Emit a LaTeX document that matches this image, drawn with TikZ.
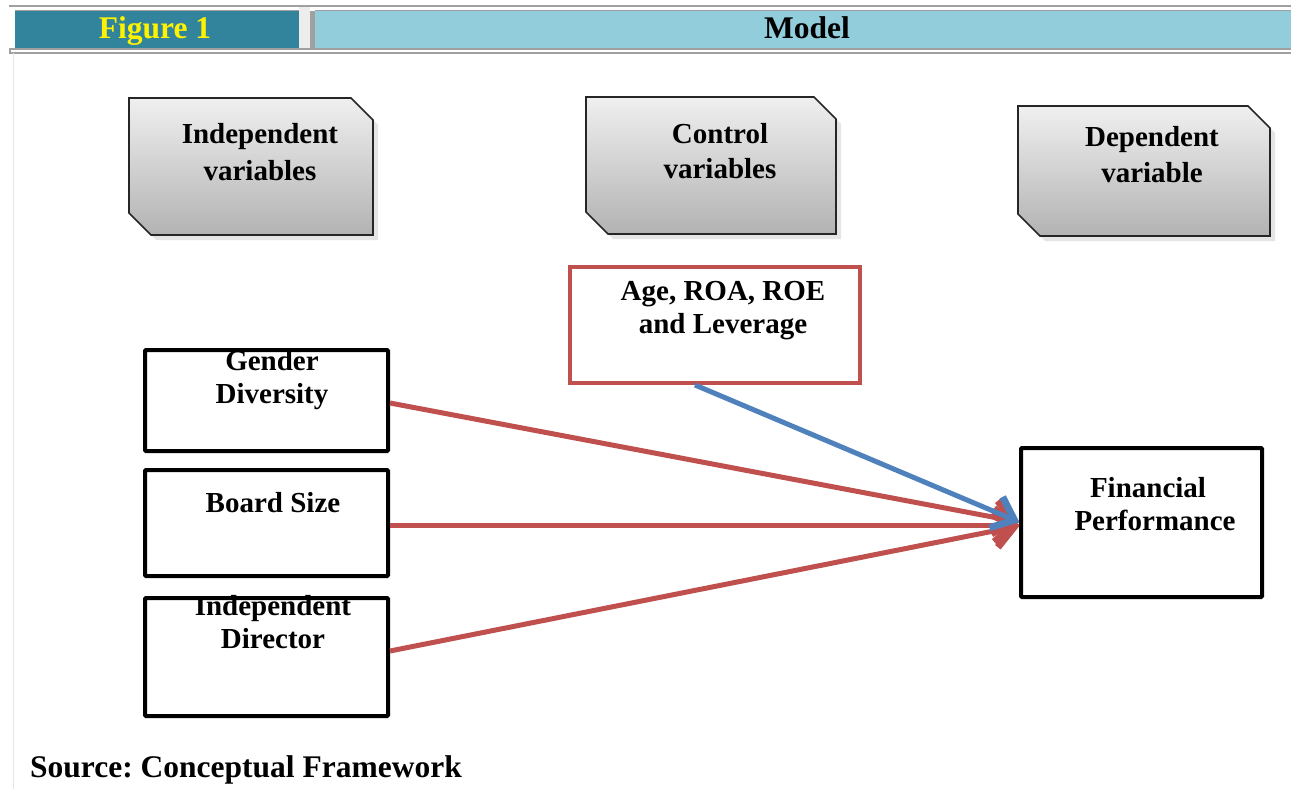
\documentclass[tikz,border=0pt]{standalone}
\usepackage{fontspec}
\setmainfont{Liberation Serif}
\usetikzlibrary{calc}
\definecolor{teal1}{HTML}{31849B}
\definecolor{lblue}{HTML}{92CDDC}
\definecolor{hgray}{HTML}{A0A0A0}
\definecolor{redl}{HTML}{C0504D}
\definecolor{bluel}{HTML}{4F81BD}
\frenchspacing
\tikzset{
  lbl/.style={font=\bfseries\fontsize{29}{33}\selectfont, align=center, inner sep=0pt},
  hdr/.style={font=\bfseries\fontsize{31.5}{34}\selectfont, inner sep=0pt, anchor=base},
  blkbox/.style={draw=black, line width=4pt, rounded corners=1pt, inner sep=0pt, anchor=north west},
  redbox/.style={draw=redl, line width=4pt, inner sep=0pt, anchor=north west},
  snip/.style={draw=black!85, line width=1.6pt, top color=black!6, bottom color=black!30},
  snipshadow/.style={fill=black!10, draw=none},
  arr/.style={line width=5pt},
  arrhead/.style={line width=7pt, line join=miter},
}
\newcommand{\snipbox}[5]{% x1 y1 x2 y2 c
  \path[snipshadow] (#1+5,#2+5) -- (#3-#5+5,#2+5) -- (#3+5,#2+#5+5) -- (#3+5,#4+5) -- (#1+#5+5,#4+5) -- (#1+5,#4-#5+5) -- cycle;
  \path[snip] (#1,#2) -- (#3-#5,#2) -- (#3,#2+#5) -- (#3,#4) -- (#1+#5,#4) -- (#1,#4-#5) -- cycle;
}
% arrow with chevron head: #1 colour, #2 start, #3 tip
\newcommand{\chevarrow}[3]{%
  \draw[arr, #1] #2 -- ($#3!4pt!#2$);
  \draw[arrhead, #1] ($#3!30pt!34:#2$) -- ($#3!5pt!#2$) -- ($#3!30pt!-34:#2$);
}
\begin{document}
\begin{tikzpicture}[x=1pt,y=-1pt]
\useasboundingbox (0,0) rectangle (1291,789);
\fill[white] (0,0) rectangle (1291,789);
% header
\draw[hgray, line width=2pt] (9,6.5) -- (1291,6.5);
\fill[black!7] (299,7.5) rectangle (310,48);
\fill[teal1] (15,11) rectangle (299,48);
\fill[hgray] (310,11) rectangle (315,48);
\fill[lblue] (315,11) rectangle (1291,48);
\draw[hgray, line width=1pt] (15,10.5) -- (299,10.5);
\draw[hgray, line width=1pt] (315,10.5) -- (1291,10.5);
\draw[hgray, line width=2pt] (9,49) -- (1291,49);
\draw[hgray, line width=2pt] (9,53) -- (1291,53);
\draw[hgray, line width=1.5pt] (10,48) -- (10,54);
\draw[black!10, line width=1.5pt] (13.5,53) -- (13.5,789);
\node[hdr, text=yellow] (fig) at (155,39) {Figure 1};
\node[hdr] (model) at (807,39) {Model};
% snip boxes
\snipbox{129}{98}{373}{235}{22}
\node[lbl, font=\bfseries\fontsize{29}{37}\selectfont] (indep) at (260,152) {Independent\\variables};
\snipbox{586}{97}{836}{234}{22}
\node[lbl, font=\bfseries\fontsize{29}{35}\selectfont] (ctrl) at (720,151) {Control\\variables};
\snipbox{1018}{106}{1270}{236}{22}
\node[lbl, font=\bfseries\fontsize{29}{36}\selectfont] (dep) at (1152,155) {Dependent\\variable};
% boxes
\node[redbox, minimum width=290pt, minimum height=116pt] (ctrlbox) at (568,265) {};
\node[lbl] (ctrltxt) at (723,310.5) {Age, ROA, ROE\\and Leverage};
\node[blkbox, minimum width=243pt, minimum height=101pt] (gd) at (143,348) {};
\node[lbl] (gdtxt) at (272,380) {Gender\\Diversity};
\node[blkbox, minimum width=243pt, minimum height=106pt] (bs) at (143,468) {};
\node[lbl] (bstxt) at (273,503) {Board Size};
\node[blkbox, minimum width=243pt, minimum height=118pt] (id) at (143,596) {};
\node[lbl] (idtxt) at (273,622) {Independent\\Director};
\node[blkbox, minimum width=241pt, minimum height=149pt] (fp) at (1019,446) {};
\node[lbl] (fptxt) at (1155,504) {Financial\hspace*{14pt}\\Performance};
% arrows
\coordinate (tip) at (fp.west |- 0,522);
\coordinate (tipb) at (fp.west |- 0,525);
\coordinate (tipc) at (fp.west |- 0,526);
\coordinate (sa) at (gd.east |- 0,403);
\coordinate (sb) at (bs.east |- 0,525);
\coordinate (sc) at (id.east |- 0,651);
\coordinate (sd) at (ctrlbox.south -| 695,0);
\chevarrow{redl}{(sa)}{(tip)}
\chevarrow{redl}{(sb)}{(tipb)}
\chevarrow{redl}{(sc)}{(tipc)}
\chevarrow{bluel}{(sd)}{(tip)}
\node[font=\bfseries\fontsize{31.5}{34}\selectfont, anchor=west, inner sep=0pt] (src) at (30,770) {Source: Conceptual Framework};
\end{tikzpicture}
\end{document}
